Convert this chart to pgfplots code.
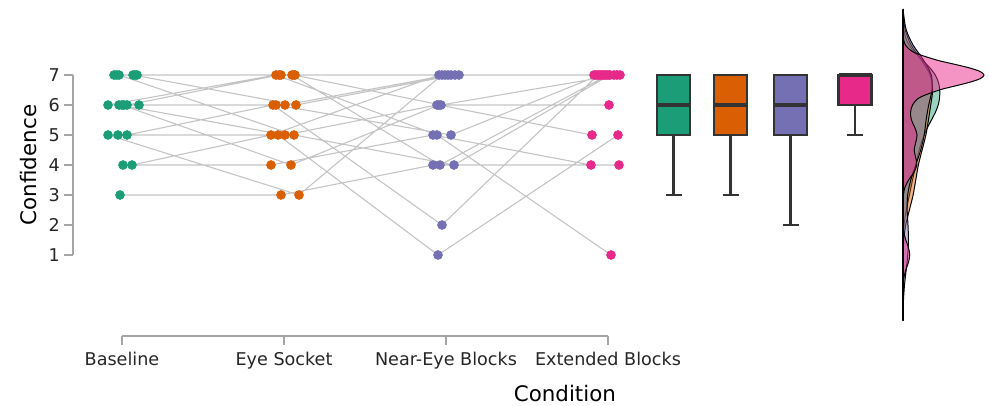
\documentclass[border=0pt]{standalone}
\usepackage{fontspec}
\setmainfont{DejaVu Sans}
\usepackage{pgfplots}
\pgfplotsset{compat=1.18}
\usepackage{pgfplotstable}
\definecolor{cB}{HTML}{1B9E77}
\definecolor{cE}{HTML}{D95F02}
\definecolor{cN}{HTML}{7570B3}
\definecolor{cX}{HTML}{E7298A}
\definecolor{lgray}{HTML}{C4C4C4}
\definecolor{agray}{HTML}{A5A5A5}
\definecolor{bgray}{HTML}{333333}

% participant paths: Baseline, Eye Socket, Near-Eye Blocks, Extended Blocks (x in px, y = confidence)
\pgfplotstableread{
x y
120 3
281 3
433 4
619 4
nan nan
123 4
271 4
433 5
591 4
nan nan
132 4
271 5
439 7
594 7
nan nan
108 5
299 3
442 7
596 7
nan nan
118 5
278 5
438 1
618 5
nan nan
127 5
273 6
442 2
598 7
nan nan
108 6
276 7
437 5
611 1
nan nan
119 6
285 5
437 6
609 6
nan nan
122 6
291 4
439 6
592 5
nan nan
124 6
276 6
451 5
600 7
nan nan
127 6
279 7
445 7
602 7
nan nan
139 6
285 6
448 7
604 7
nan nan
114 7
281 7
451 7
606 7
nan nan
116.5 7
292 7
440 4
608 7
nan nan
119 7
294 5
454 4
610 7
nan nan
133 7
296 6
455 7
614 7
nan nan
135 7
294 7
441 6
617 7
nan nan
137 7
295 7
459 7
620 7
}\lines

\pgfplotstableread{
v d
-1.2 0
1 0.0001
1.5 0.0014
1.75 0.0038
2 0.0089
2.25 0.0174
2.5 0.0291
2.75 0.0424
3 0.0558
3.25 0.0692
3.5 0.0831
3.75 0.0975
4 0.1116
4.25 0.1255
4.5 0.1412
4.75 0.1606
5 0.1845
5.25 0.2137
5.5 0.2480
5.75 0.2819
6 0.3073
6.25 0.3195
6.5 0.3203
6.75 0.3095
7 0.2814
7.25 0.2314
7.5 0.1662
7.75 0.1018
8 0.0525
8.25 0.0226
8.5 0.0081
8.75 0.0024
9 0.0006
9.2 0
}\densB

\pgfplotstableread{
v d
-1.2 0
0.5 0.0001
1 0.0011
1.5 0.0065
2 0.0239
2.5 0.0557
3 0.0883
3.5 0.1111
4 0.1339
4.5 0.1667
5 0.1994
5.5 0.2219
6 0.2418
6.5 0.2582
7 0.2377
7.5 0.1602
8 0.0706
8.5 0.0194
9 0.0032
9.2 0
}\densE

\pgfplotstableread{
v d
-1.2 0
-1 0.0008
-0.5 0.0041
0 0.0130
0.5 0.0277
1 0.0417
1.5 0.0475
2 0.0434
2.5 0.0361
3 0.0407
3.5 0.0678
4 0.1111
4.5 0.1548
5 0.1849
5.5 0.2016
6 0.2240
6.5 0.2528
7 0.2467
7.5 0.1781
8 0.0876
8.5 0.0283
9 0.0059
9.2 0
}\densN

\pgfplotstableread{
v d
-1.2 0
-0.25 0.0002
0 0.0017
0.25 0.0081
0.5 0.0244
0.75 0.0472
1 0.0588
1.25 0.0472
1.5 0.0244
1.75 0.0081
2 0.0017
2.25 0.0002
2.75 0.0002
3 0.0035
3.25 0.0163
3.5 0.0489
3.75 0.0948
4 0.1210
4.25 0.1106
4.5 0.0976
4.75 0.1109
5 0.1228
5.25 0.1030
5.5 0.0735
5.75 0.0663
6 0.0831
6.25 0.1453
6.5 0.3172
6.625 0.4449
6.75 0.5744
6.875 0.6717
7 0.7071
7.125 0.6685
7.25 0.5665
7.375 0.4301
7.5 0.2928
7.75 0.0976
8 0.0209
8.25 0.0028
8.5 0.0003
9.2 0
}\densX

\begin{document}
\begin{tikzpicture}
\useasboundingbox (0,0) rectangle (494.5pt,203pt);
\begin{axis}[
  at={(36.5pt,35pt)}, anchor=south west,
  scale only axis, width=458pt, height=168pt,
  xmin=73, xmax=989, ymin=-1.7, ymax=9.5,
  clip=false,
  axis x line*=bottom, axis y line*=left,
  axis line style={draw=none},
  xtick={122,284,446,608},
  xticklabels={Baseline, Eye Socket, Near-Eye Blocks, Extended Blocks},
  ytick={1,2,3,4,5,6,7},
  tick align=outside, major tick length=4.5pt,
  tick style={color=agray, line width=0.6pt},
  minor tick num=0,
  ticklabel style={font=\fontsize{8.8}{10}\selectfont, text=black!85},
  yticklabel style={xshift=1.5pt},
  /pgf/number format/assume math mode=true,
  xlabel={Condition}, ylabel={Confidence},
  xlabel style={at={(axis description cs:0.537,-0.170)}, anchor=center, font=\fontsize{10.7}{12}\selectfont},
  ylabel style={at={(axis description cs:-0.049,0.509)}, anchor=center, font=\fontsize{10.7}{12}\selectfont},
  boxline/.style={draw=bgray, line width=1.25pt, line join=miter, mark=none},
]
% range frame axis lines
\draw[agray, line width=0.6pt] (axis cs:73,1) -- (axis cs:73,7);
\draw[agray, line width=0.6pt] (axis cs:122,-1.7) -- (axis cs:608,-1.7);

% participant lines
\addplot[lgray, line width=0.55pt, unbounded coords=jump, mark=none] table[x=x,y=y]{\lines};

% dots
\addplot[only marks, mark=*, mark size=2.2pt, color=cB, restrict x to domain=90:160] table[x=x,y=y]{\lines};
\addplot[only marks, mark=*, mark size=2.2pt, color=cE, restrict x to domain=250:320] table[x=x,y=y]{\lines};
\addplot[only marks, mark=*, mark size=2.2pt, color=cN, restrict x to domain=410:480] table[x=x,y=y]{\lines};
\addplot[only marks, mark=*, mark size=2.2pt, color=cX, restrict x to domain=570:640] table[x=x,y=y]{\lines};

% box plots: whisker, cap, box (lower quartile..upper quartile), median
% Baseline: whisker 3, Q1 5, median 6, Q3 7
\addplot[boxline] coordinates {(673.5,5) (673.5,3)};
\addplot[boxline] coordinates {(665.5,3) (681.5,3)};
\addplot[boxline, fill=cB] coordinates {(657,5) (690,5) (690,7) (657,7)} -- cycle;
\addplot[boxline, line width=2.2pt] coordinates {(657,6) (690,6)};
% Eye Socket: whisker 3, Q1 5, median 6, Q3 7
\addplot[boxline] coordinates {(730.5,5) (730.5,3)};
\addplot[boxline] coordinates {(722.5,3) (738.5,3)};
\addplot[boxline, fill=cE] coordinates {(714,5) (747,5) (747,7) (714,7)} -- cycle;
\addplot[boxline, line width=2.2pt] coordinates {(714,6) (747,6)};
% Near-Eye Blocks: whisker 2, Q1 5, median 6, Q3 7
\addplot[boxline] coordinates {(790.5,5) (790.5,2)};
\addplot[boxline] coordinates {(782.5,2) (798.5,2)};
\addplot[boxline, fill=cN] coordinates {(774,5) (807,5) (807,7) (774,7)} -- cycle;
\addplot[boxline, line width=2.2pt] coordinates {(774,6) (807,6)};
% Extended Blocks: whisker 5, Q1 6, median 7, Q3 7
\addplot[boxline] coordinates {(855,6) (855,5)};
\addplot[boxline] coordinates {(847,5) (863,5)};
\addplot[boxline, fill=cX] coordinates {(838.5,6) (871.5,6) (871.5,7) (838.5,7)} -- cycle;
\addplot[boxline, line width=2.2pt] coordinates {(838.5,7) (871.5,7)};

% densities
\addplot[fill=cB, fill opacity=0.45, draw=black, line width=0.5pt, smooth] table[x expr=903+114.6*\thisrow{d}, y=v]{\densB};
\addplot[fill=cE, fill opacity=0.45, draw=black, line width=0.5pt, smooth] table[x expr=903+114.6*\thisrow{d}, y=v]{\densE};
\addplot[fill=cN, fill opacity=0.45, draw=black, line width=0.5pt, smooth] table[x expr=903+114.6*\thisrow{d}, y=v]{\densN};
\addplot[fill=cX, fill opacity=0.5, draw=black, line width=0.5pt, smooth] table[x expr=903+114.6*\thisrow{d}, y=v]{\densX};
\draw[black, line width=0.6pt] (axis cs:903,-1.17) -- (axis cs:903,9.17);
\end{axis}
\end{tikzpicture}
\end{document}
